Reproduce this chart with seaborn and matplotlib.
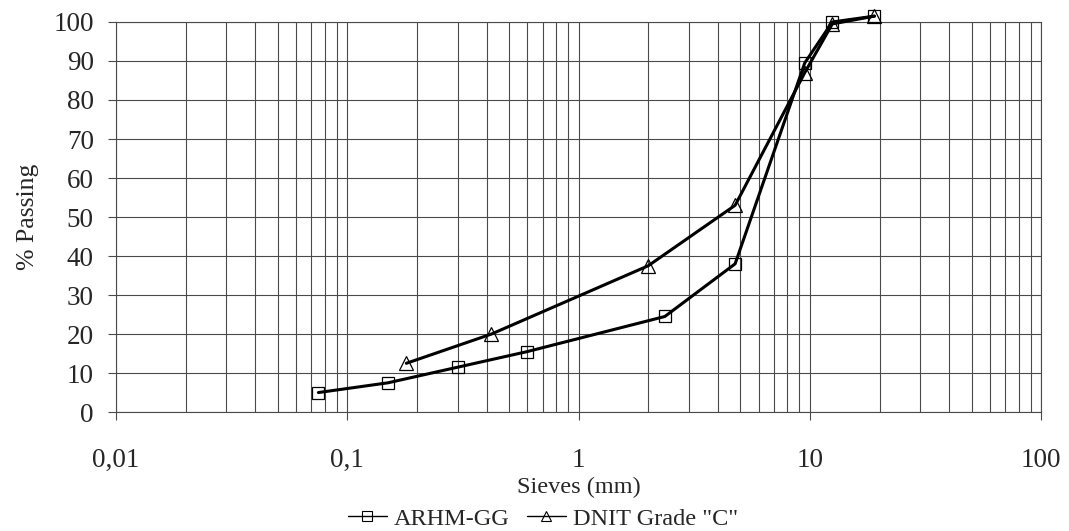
import numpy as np
import pandas as pd
import matplotlib.pyplot as plt
import seaborn as sns
from matplotlib.lines import Line2D
from matplotlib.ticker import FixedLocator, LogLocator, NullFormatter

# Gradation data
sieve_arhm = [0.075, 0.15, 0.3, 0.6, 2.36, 4.75, 9.5, 12.5, 19.0]
passing_arhm = [5.0, 7.5, 11.5, 15.5, 24.5, 38.0, 89.5, 100.0, 101.5]

sieve_dnit = [0.18, 0.42, 2.0, 4.75, 9.5, 12.5, 19.0]
passing_dnit = [12.5, 20.0, 37.5, 53.0, 87.0, 99.5, 101.5]

x_ticks = [0.01, 0.1, 1, 10, 100]
x_tick_labels = ['0,01', '0,1', '1', '10', '100']
y_ticks = list(range(0, 101, 10))

series_names = ['ARHM-GG', 'DNIT Grade "C"']

# Style
sns.set_style("white")
plt.rcParams['font.family'] = ['Liberation Serif', 'DejaVu Serif']

fig = plt.figure(figsize=(10.69, 5.31), dpi=100)
ax = fig.add_axes([0.1085, 0.224, 0.8655, 0.7346])
ax.set_xscale('log')

grid_col = '#4a4a4a'

sns.lineplot(x=sieve_arhm, y=passing_arhm, ax=ax, color='black', lw=2.2,
             marker='s', markersize=9, markerfacecolor='none',
             markeredgecolor='black', markeredgewidth=0.9,
             sort=False, clip_on=False, zorder=5)
sns.lineplot(x=sieve_dnit, y=passing_dnit, ax=ax, color='black', lw=2.2,
             marker='^', markersize=10, markerfacecolor='none',
             markeredgecolor='black', markeredgewidth=0.9,
             sort=False, clip_on=False, zorder=5)

ax.set_xlim(0.01, 100)
ax.set_ylim(0, 100)

ax.xaxis.set_major_locator(FixedLocator(x_ticks))
ax.set_xticklabels(x_tick_labels)
ax.xaxis.set_minor_locator(LogLocator(base=10, subs=np.arange(2, 10), numticks=20))
ax.xaxis.set_minor_formatter(NullFormatter())
ax.set_yticks(y_ticks)

ax.grid(True, which='major', axis='both', color=grid_col, lw=0.8)
ax.grid(True, which='minor', axis='x', color=grid_col, lw=0.8)

ax.tick_params(axis='x', which='major', direction='out', length=6, width=0.8,
               color=grid_col, pad=20, labelsize=19.5)
ax.tick_params(axis='x', which='minor', length=0)
ax.tick_params(axis='y', direction='out', length=6, width=0.8,
               color=grid_col, pad=10, labelsize=19.5)
ax.tick_params(left=True, bottom=True)

for s in ax.spines.values():
    s.set_color(grid_col)
    s.set_linewidth(0.8)

ax.set_xlabel('Sieves (mm)', fontsize=17.5)
ax.xaxis.set_label_coords(0.5, -0.165)
ax.set_ylabel('% Passing', fontsize=18.5, labelpad=10)

handles = [
    Line2D([], [], color='black', lw=1.0, marker='s', markersize=7,
           markerfacecolor='none', markeredgecolor='black', markeredgewidth=0.8),
    Line2D([], [], color='black', lw=1.0, marker='^', markersize=7,
           markerfacecolor='none', markeredgecolor='black', markeredgewidth=0.8),
]
fig.legend(handles, series_names, loc='lower center', bbox_to_anchor=(0.508, 0.002),
           ncol=2, frameon=False, fontsize=17.5, handlelength=1.6, borderpad=0.0,
           borderaxespad=0.0, handletextpad=0.3, columnspacing=0.7)

fig.savefig('out.png', dpi=100)
